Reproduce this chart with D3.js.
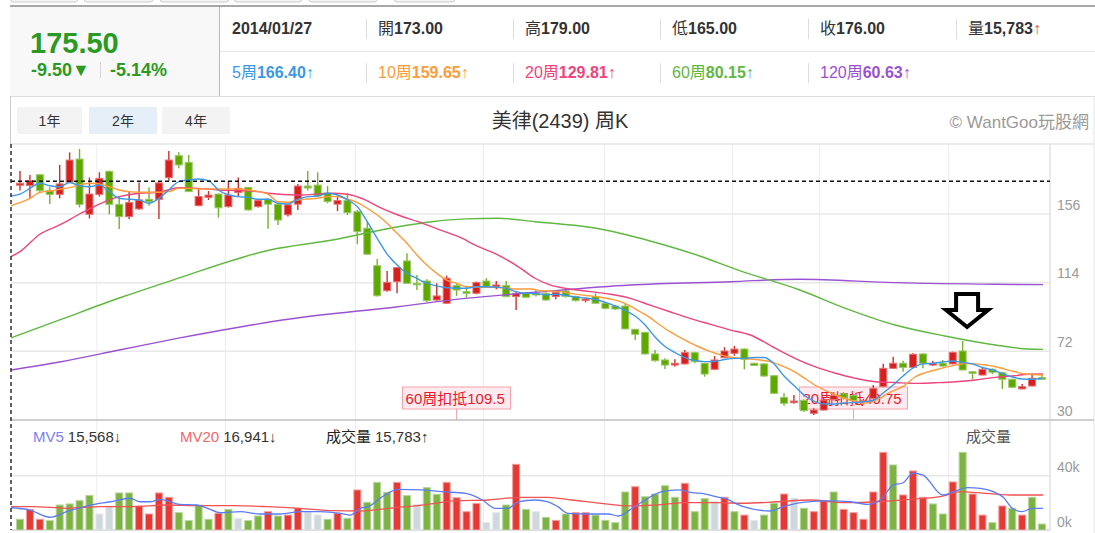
<!DOCTYPE html>
<html>
<head>
<meta charset="utf-8">
<script src="https://cdn.jsdelivr.net/npm/d3@7"></script>
<style>
  body { margin: 0; background: #fff; }
  svg { display: block; font-family: "Liberation Sans", Arial, "Noto Sans CJK TC", sans-serif; }
</style>
</head>
<body>
<svg id="chart" width="1095" height="533"></svg>
<script>
// weekly candles, oldest first
const opens = [173.6,173.4,180.0,170.3,168.0,175.4,189.6,155.8,168.0,182.1,161.9,154.4,159.1,165.0,165.0,178.2,191.7,187.6,161.1,166.2,
  168.2,160.5,169.1,172.3,160.5,165.0,162.0,155.5,162.0,173.1,173.7,168.7,162.0,164.2,157.4,147.3,124.4,109.1,114.6,127.3,
  113.6,115.0,103.4,101.4,112.2,108.5,107.5,115.0,111.0,112.2,105.5,107.5,107.5,107.5,105.5,108.9,105.5,103.0,105.5,101.4,
  99.7,99.7,85.5,83.6,70.4,66.7,63.6,64.3,71.2,64.7,61.0,68.1,70.8,73.4,64.7,64.3,57.1,43.8,40.6,42.0,
  34.1,36.1,42.5,46.0,45.0,41.2,43.2,50.4,61.6,64.7,62.2,70.4,63.6,64.7,64.3,72.2,59.5,57.5,61.0,58.9,
  54.9,49.0,50.8,55.9];
const highs = [182.3,179.9,180.5,172.3,186.0,193.7,195.8,178.4,181.5,182.5,166.7,170.1,175.2,172.3,176.0,194.5,193.7,192.1,171.3,170.1,
  168.5,176.2,178.4,172.5,165.0,165.5,162.5,162.0,174.4,182.3,181.5,173.1,167.0,168.7,158.5,151.5,128.5,121.1,123.5,132.0,
  118.7,116.1,113.6,118.3,113.6,111.6,114.6,116.7,115.0,115.0,108.9,108.0,109.5,108.3,108.3,109.5,106.0,104.8,107.5,102.0,
  100.3,101.4,85.7,84.0,72.8,67.7,67.1,72.8,71.8,65.0,69.1,74.5,75.3,73.8,65.0,64.6,57.4,46.3,45.3,42.5,
  37.2,43.5,47.0,47.0,46.0,43.0,51.4,64.4,68.7,66.3,70.8,70.8,66.3,66.7,71.8,78.3,59.8,62.2,61.6,59.5,
  55.2,52.0,58.5,57.5];
const lows = [170.3,165.6,168.7,162.1,165.6,175.0,160.0,153.3,166.7,155.8,146.8,153.0,158.5,161.1,153.0,176.4,184.0,169.5,160.8,164.6,
  153.8,160.0,167.0,158.0,160.0,147.0,149.3,154.4,158.5,170.3,166.6,162.6,157.8,155.4,137.5,131.0,105.5,108.5,107.5,113.2,
  109.5,102.0,103.0,101.0,105.9,104.9,106.9,111.0,110.0,105.1,97.3,104.8,105.5,103.0,103.9,105.0,102.5,102.0,101.2,97.8,
  97.3,85.5,78.9,70.0,65.7,61.2,62.6,64.0,64.7,56.5,60.8,68.0,69.3,61.0,63.0,56.5,46.0,38.7,40.0,35.0,
  33.1,35.8,42.0,42.5,41.0,41.0,42.8,50.0,61.2,59.5,62.0,61.6,63.0,62.6,64.0,60.4,54.9,57.3,58.1,49.0,
  49.8,48.8,50.5,54.8];
const closes = [174.8,176.4,170.3,168.0,174.4,189.0,161.9,168.2,177.8,161.9,154.4,163.0,164.6,163.6,175.0,189.0,186.0,169.7,166.7,167.6,
  159.8,167.6,171.7,158.5,164.2,162.0,152.3,161.6,173.1,171.9,167.0,163.6,164.2,156.8,145.2,131.4,106.0,114.2,123.2,113.6,
  113.0,103.0,105.9,116.7,109.5,107.5,114.2,111.6,112.6,105.5,107.5,105.1,106.5,103.4,108.1,105.5,103.0,104.0,101.4,98.3,
  97.9,85.7,82.4,70.4,66.3,63.6,64.7,71.2,65.7,58.1,66.7,72.2,73.4,67.1,63.3,56.9,46.3,40.2,41.6,35.7,
  36.1,42.2,45.0,43.5,42.0,42.0,49.3,61.6,64.7,62.2,70.2,64.7,64.7,63.0,71.4,60.6,58.5,61.0,59.2,54.9,
  50.0,50.4,55.5,54.9];
// weekly volume in thousands of lots, and bar colour code (r up, g down, n flat)
const volumes = [7.9,15.2,7.9,6.9,18.4,19.2,21.6,25.5,11.8,17.7,27.3,27.3,17.7,11.8,27.3,24.1,12.8,6.9,18.4,7.9,
  12.3,15.2,8.6,6.9,10.3,13.5,10.3,11.0,16.0,13.5,11.0,7.9,12.3,8.6,29.5,20.4,35.1,27.8,35.1,25.3,
  18.9,31.2,26.3,35.1,23.8,13.5,19.6,5.4,12.8,18.4,48.4,15.2,13.5,9.3,7.1,11.8,12.8,12.8,11.0,7.1,
  5.4,28.0,31.9,24.5,26.5,32.6,24.1,34.4,13.5,23.1,20.9,24.1,13.5,11.0,7.1,11.0,19.6,26.5,23.3,16.0,
  13.5,21.6,28.0,15.2,12.8,7.9,28.0,57.2,47.9,25.8,43.5,24.1,19.2,11.8,35.4,57.2,26.5,11.0,5.4,17.7,
  16.0,11.0,24.1,4.4];
const volColors = "grrgggggnnggrrrrggggrgnggrgrrnngrgrgggrgnggrrrrnngrgngrgrrggggrggggrggnrgrnggrngrrgrrrrrgrrrggrgrrgrgrgg";

// moving averages: [week index, value]
const ma5 = [[-0.9,167],[0,168.1],[1,171.7],[2,174.8],[3,173.3],[4,172.7],[5,175.2],[6,173.3],[7,172.7],[8,173.7],[9,169.7],[10,165.6],[11,165.0],[12,164.6],[13,162.6],[14,165.6],[15,170.7],[16,175.8],[17,176.8],[18,177.4],[19,176.4],[20,170.7],[21,167.6],[22,166.6],[23,166.2],[24,165.0],[25,165.0],[26,162.6],[27,162.1],[28,165.0],[29,166.6],[30,167.0],[31,168.7],[32,167.6],[33,164.6],[34,160.5],[35,151.3],[36,141.1],[37,131.5],[38,124.8],[39,119.7],[40,116.6],[41,113.6],[42,112.0],[43,110.9],[44,110.6],[45,110.6],[46,111.5],[47,111.5],[48,111.2],[49,110.6],[50,108.5],[51,107.5],[52,107.4],[53,106.5],[54,106.9],[55,106.2],[56,105.2],[57,104.6],[58,103.7],[59,101.9],[60,99.7],[61,97.0],[62,93.6],[63,88.1],[64,80.8],[65,75.0],[66,71.3],[67,68.2],[68,66.4],[69,65.7],[70,65.8],[71,67.0],[72,67.7],[73,67.7],[74,68.2],[75,68.2],[76,64.3],[77,56.9],[78,51.1],[79,45.3],[80,41.6],[81,39.8],[82,39.8],[83,40.4],[84,40.6],[85,41.2],[86,42.1],[87,46.5],[88,51.4],[89,56.9],[90,61.8],[91,64.3],[92,64.7],[93,65.5],[94,66.1],[95,65.2],[96,64.3],[97,62.1],[98,60.6],[99,58.4],[100,56.3],[101,55.1],[102,54.9],[103,55.5]];
const ma10 = [[-0.9,161.0],[0,162.9],[1,165.6],[2,169.3],[3,170.1],[4,171.1],[5,172.1],[6,173.7],[7,174.8],[8,174.4],[9,172.7],[10,170.7],[11,169.7],[12,169.3],[14,169.3],[15,169.7],[16,171.7],[17,171.7],[18,171.3],[22,171.3],[23,170.7],[24,169.7],[25,168.2],[26,163.5],[27,163.2],[28,164.6],[29,165.2],[30,165.6],[31,166.6],[32,166.6],[33,165.2],[34,162.9],[35,159.5],[36,155.4],[37,150.3],[38,144.2],[39,138.1],[40,130.9],[41,124.8],[42,119.7],[43,115.6],[44,113.6],[45,111.5],[46,111.2],[48,111.2],[49,110.6],[50,110.1],[51.6,110.1],[52.4,109.1],[53.4,108.9],[54.4,108.5],[55.4,107.5],[56.5,106.5],[57.5,105.9],[58.5,105.1],[59.5,104.0],[60.5,102.4],[61.5,99.7],[62.5,96.2],[63.5,92.6],[64.5,88.1],[65.5,84.0],[66.5,80.6],[67.5,77.3],[68.5,74.5],[69.6,71.8],[70.6,69.8],[71.6,68.4],[72.6,67.7],[73.6,67.3],[74.6,66.7],[75.6,65.7],[76.6,63.6],[77.6,61.0],[78.6,57.5],[80.1,51.4],[82.2,45.3],[83.7,42.2],[85.2,40.4],[86.5,42.8],[87.7,47.1],[88.9,50.2],[90.2,56.3],[92.2,60.6],[94.3,63.6],[95.3,64.6],[96.3,64.3],[97.3,63.6],[98.3,62.6],[99.3,61.0],[100.3,59.5],[101.3,58.1],[103.1,57.5]];
const ma20 = [[-0.9,130.0],[0,133.0],[2,143.6],[4,149.3],[6,156.0],[8,162.1],[10,166.6],[12,168.7],[14,169.3],[16,172.1],[18,171.7],[20,170.7],[22,170.3],[24,169.7],[25,168.7],[28,167.6],[31.5,168.7],[33,168.1],[34.8,164.6],[36.1,160.5],[38.1,155.4],[40.1,151.3],[42.1,146.8],[44.2,142.1],[46.2,136.0],[48.2,130.9],[50.2,123.8],[51.9,116.7],[53.4,112.6],[55.4,110.1],[57.5,108.5],[59.5,106.9],[61.5,104.4],[63.5,100.3],[65.5,96.2],[67.5,92.2],[69.6,88.5],[71.6,85.0],[73.6,82.0],[76.1,73.9],[78.1,67.7],[80.1,62.6],[82.2,58.6],[84.2,55.5],[86.2,53.4],[88.2,52.9],[90.2,52.4],[92.2,52.8],[94.3,53.4],[96.3,54.5],[98.3,56.1],[100.3,57.1],[101.6,58.0],[103.1,58.1]];
const ma60 = [[-0.9,80.2],[4,91.2],[10,104.6],[15.4,115.6],[25.2,134.0],[31.5,140.1],[38.1,148.2],[41.5,151.3],[44.9,153.0],[48.2,153.4],[51.9,151.3],[58.5,146.8],[63.5,139.5],[68.5,130.3],[72.3,121.8],[78.6,109.5],[83.2,98.3],[88.2,88.1],[93.2,81.4],[98.3,75.9],[101.6,73.4],[103.1,73.2]];
const ma120 = [[-0.9,60.6],[4,65.5],[10,72.8],[16.1,80.2],[22.2,86.9],[27,91.6],[38.1,99.3],[44.9,104.4],[51.9,108.1],[61.5,112.6],[71.6,114.6],[78.6,116.1],[88.2,114.0],[98.3,113.0],[103.1,112.8]];
const mv5 = [[-0.9,16.4],[1,14.7],[3,9.4],[4.7,13.5],[7.1,18.4],[9.1,20.8],[11.1,23.4],[12.1,20.8],[13.1,20.8],[14.1,22.6],[16.1,18.9],[17.8,18.4],[18.9,16.0],[20.2,12.7],[22.2,13.5],[24.2,11.8],[26.2,11.8],[28.2,13.5],[30.2,13.5],[32.3,12.3],[33.3,11.0],[34.3,16.0],[35.1,17.2],[36.5,24.5],[38.1,30.0],[40.5,29.5],[42.5,28.2],[44.9,27.0],[46.6,22.1],[47.9,16.0],[49.2,16.0],[50.2,20.8],[51.9,22.1],[53.2,20.8],[54.2,17.2],[55.2,12.3],[57.3,11.8],[59.3,11.8],[60.3,10.3],[61.7,16.0],[63.0,22.1],[64.7,28.2],[66.3,29.5],[67.7,27.5],[69.1,26.5],[70.1,24.5],[70.9,23.4],[72.9,17.2],[75.6,14.0],[76.9,17.2],[78.9,20.4],[81.7,21.4],[83.7,20.8],[85.4,18.9],[86.7,22.1],[88.0,33.1],[89.0,34.8],[90.0,41.8],[91.0,40.5],[93.0,25.8],[94.1,28.2],[95.5,31.2],[96.8,30.7],[98.1,28.2],[99.1,24.1],[100.0,16.0],[101.0,13.5],[102.0,16.0],[103.1,16.0]];
const mv20 = [[-0.9,17.2],[1.3,17.2],[4.7,16.0],[8.1,17.2],[11.4,17.2],[14.8,18.4],[18.1,17.9],[21.5,17.9],[24.9,17.2],[28.2,16.0],[31.6,14.2],[34.3,14.0],[37.1,16.0],[40.5,18.4],[43.9,21.4],[47.2,22.1],[50.6,24.1],[53.2,24.1],[55.6,22.1],[59.0,19.2],[61.3,17.7],[64.0,18.4],[67.3,20.1],[70.1,20.1],[72.9,19.7],[76.3,20.8],[79.6,22.1],[83.0,20.1],[86.4,20.8],[89.7,22.6],[93.0,25.0],[94.8,28.2],[96.5,27.5],[99.8,25.8],[103.1,25.8]];

const priceTicks = [30, 72, 114, 156];
const volTicks = [0, 40];
const gridWeeks = [7.75, 20.7, 33.8, 46.7, 58.9, 71.8, 80.6, 93.6];

// header figures
const quoteDate = "2014/01/27";
const quoteLabels = ["開", "高", "低", "收", "量"];
const quoteValues = ["173.00", "179.00", "165.00", "176.00", "15,783↑"];
const maLabels = ["5周", "10周", "20周", "60周", "120周"];
const maValues = ["166.40", "159.65", "129.81", "80.15", "60.63"];
const maColors = ["#3c98e4", "#ff9b3a", "#f0447c", "#5fb83f", "#9b52d2"];
const fuDi = [{ k: 44, text: "60周扣抵109.5" }, { k: 84, text: "20周扣抵40.75" }];

const svg = d3.select("#chart");
const pL = 11, pR = 1050, pT = 144, pM = 420, pB = 530;

const x = d3.scaleLinear([0, 103], [20, 1042]);
const y = d3.scaleLinear([30, 156], [420, 214]);
const yv = d3.scaleLinear([0, 40], [530, 475.7]);

// ---------- header ----------
const hdr = svg.append("g");
[[10.5, 78], [84, 153], [160, 229], [234, 302], [309, 377], [394, 455]].forEach(([a, b]) => {
  hdr.append("rect").attr("x", a).attr("y", -8).attr("width", b - a).attr("height", 10)
    .attr("rx", 3).attr("fill", "#f4f4f4").attr("stroke", "#ccc");
});
hdr.append("line").attr("x1", 10).attr("x2", 1095).attr("y1", 6).attr("y2", 6)
  .attr("stroke", "#8a8a8a").attr("stroke-width", 1.5);
hdr.append("rect").attr("x", 10).attr("y", 7).attr("width", 209).attr("height", 89).attr("fill", "#f8f8f8");
hdr.append("line").attr("x1", 219.5).attr("x2", 219.5).attr("y1", 7).attr("y2", 96).attr("stroke", "#b8b8b8");
hdr.append("line").attr("x1", 220).attr("x2", 1095).attr("y1", 51.5).attr("y2", 51.5).attr("stroke", "#e6e6e6");
hdr.append("line").attr("x1", 10).attr("x2", 1095).attr("y1", 96.5).attr("y2", 96.5).attr("stroke", "#dcdcdc");

hdr.append("text").attr("x", 30).attr("y", 53).attr("font-size", 29).attr("font-weight", "bold")
  .attr("fill", "#2a9a22").text("175.50");
hdr.append("text").attr("x", 31).attr("y", 76).attr("font-size", 18).attr("font-weight", "bold")
  .attr("fill", "#2a9a22").text("-9.50▼");
hdr.append("line").attr("x1", 100.5).attr("x2", 100.5).attr("y1", 62).attr("y2", 78).attr("stroke", "#d6d6d6");
hdr.append("text").attr("x", 110).attr("y", 76).attr("font-size", 18).attr("font-weight", "bold")
  .attr("fill", "#2a9a22").text("-5.14%");

const colX = [232, 378, 525, 672, 820, 968];
colX.slice(1).forEach(cx => {
  hdr.append("line").attr("x1", cx - 11.5).attr("x2", cx - 11.5).attr("y1", 19).attr("y2", 39).attr("stroke", "#ddd");
});
colX.slice(1, 5).forEach(cx => {
  hdr.append("line").attr("x1", cx - 11.5).attr("x2", cx - 11.5).attr("y1", 63).attr("y2", 83).attr("stroke", "#ddd");
});
hdr.append("text").attr("x", colX[0]).attr("y", 34).attr("font-size", 16).attr("font-weight", "bold")
  .attr("fill", "#333").text(quoteDate);
quoteLabels.forEach((lab, i) => {
  const t = hdr.append("text").attr("x", colX[i + 1]).attr("y", 34).attr("font-size", 16).attr("fill", "#333");
  t.append("tspan").text(lab);
  t.append("tspan").attr("font-weight", "bold").text(quoteValues[i].replace("↑", ""));
  if (quoteValues[i].endsWith("↑")) t.append("tspan").attr("fill", "#e0523a").text("↑");
});
maLabels.forEach((lab, i) => {
  const t = hdr.append("text").attr("x", colX[i]).attr("y", 78).attr("font-size", 16).attr("fill", maColors[i]);
  t.append("tspan").text(lab);
  t.append("tspan").attr("font-weight", "bold").text(maValues[i]);
  t.append("tspan").text("↑");
});

// range buttons, title, credit
[["1年", 17, 65, "#f3f3f3"], ["2年", 89, 68, "#e6eef8"], ["4年", 162, 68, "#f3f3f3"]].forEach(([lab, bx, bw, fill]) => {
  hdr.append("rect").attr("x", bx).attr("y", 107).attr("width", bw).attr("height", 27).attr("fill", fill);
  hdr.append("text").attr("x", bx + bw / 2).attr("y", 126).attr("text-anchor", "middle")
    .attr("font-size", 14).attr("fill", "#333").text(lab);
});
hdr.append("text").attr("x", 560).attr("y", 128).attr("text-anchor", "middle").attr("font-size", 20)
  .attr("fill", "#333").text("美律(2439) 周K");
hdr.append("text").attr("x", 1089).attr("y", 128).attr("text-anchor", "end").attr("font-size", 17)
  .attr("fill", "#9a9a9a").text("© WantGoo玩股網");

// ---------- frame and grid ----------
const grid = svg.append("g");
grid.append("line").attr("x1", 10.5).attr("x2", 10.5).attr("y1", 96).attr("y2", pT).attr("stroke", "#ccc");
grid.append("line").attr("x1", 1094).attr("x2", 1094).attr("y1", 96).attr("y2", 533).attr("stroke", "#e4e4e4");
grid.append("line").attr("x1", pL).attr("x2", 1094).attr("y1", pT).attr("y2", pT).attr("stroke", "#e4e4e4").attr("stroke-width", 1.5);
grid.selectAll(".vg").data(gridWeeks).join("line")
  .attr("x1", d => x(d)).attr("x2", d => x(d)).attr("y1", pT).attr("y2", pB)
  .attr("stroke", "#ececec");
grid.selectAll(".hg").data(priceTicks.slice(1)).join("line")
  .attr("x1", pL).attr("x2", pR).attr("y1", d => y(d)).attr("y2", d => y(d))
  .attr("stroke", "#e8e8e8").attr("stroke-width", 1.5);
grid.selectAll(".vgl").data(volTicks.slice(1)).join("line")
  .attr("x1", pL).attr("x2", pR).attr("y1", d => yv(d)).attr("y2", d => yv(d))
  .attr("stroke", "#e8e8e8").attr("stroke-width", 1.5);
grid.append("line").attr("x1", pR).attr("x2", pR).attr("y1", pT).attr("y2", pB).attr("stroke", "#e0e0e0").attr("stroke-width", 1.5);
grid.append("line").attr("x1", pL).attr("x2", 1094).attr("y1", pM).attr("y2", pM).attr("stroke", "#cfcfcf").attr("stroke-width", 2);
grid.append("line").attr("x1", pL).attr("x2", pR).attr("y1", pB).attr("y2", pB).attr("stroke", "#d5d5d5").attr("stroke-width", 1.5);

// right axes
const axP = d3.axisRight(y).tickValues(priceTicks).tickSize(0).tickPadding(0);
svg.append("g").attr("transform", `translate(1057,-5)`).call(axP)
  .call(g => g.select(".domain").remove())
  .call(g => g.selectAll("text").attr("font-size", 14).attr("fill", "#9a9a9a").attr("dy", 0)
    .attr("font-family", "Liberation Sans, Arial, sans-serif"));
const axV = d3.axisRight(yv).tickValues(volTicks).tickFormat(d => d + "k").tickSize(0).tickPadding(0);
svg.append("g").attr("transform", `translate(1057,-4)`).call(axV)
  .call(g => g.select(".domain").remove())
  .call(g => g.selectAll("text").attr("font-size", 14).attr("fill", "#9a9a9a").attr("dy", 0)
    .attr("font-family", "Liberation Sans, Arial, sans-serif"));

// clips
const defs = svg.append("defs");
defs.append("clipPath").attr("id", "pclip").append("rect")
  .attr("x", pL).attr("y", pT).attr("width", pR - pL).attr("height", pM - pT);
defs.append("clipPath").attr("id", "vclip").append("rect")
  .attr("x", pL).attr("y", pM + 1).attr("width", pR - pL).attr("height", pB - pM - 1);

// ---------- price panel ----------
const plot = svg.append("g").attr("clip-path", "url(#pclip)");

// look-back markers
fuDi.forEach(f => {
  const cx = x(f.k);
  plot.append("rect").attr("x", cx - 54).attr("y", 387).attr("width", 108).attr("height", 22)
    .attr("fill", "rgba(255,232,236,0.85)").attr("stroke", "#f2a2ab");
  plot.append("line").attr("x1", cx).attr("x2", cx).attr("y1", 409).attr("y2", pM)
    .attr("stroke", "#f2a2ab");
  plot.append("text").attr("x", cx - 51).attr("y", 404).attr("font-size", 15).attr("fill", "#e8192c").text(f.text);
});

const candles = d3.range(opens.length).map(i => ({ i, o: opens[i], h: highs[i], l: lows[i], c: closes[i] }));
const isUp = d => d.c >= d.o;
plot.selectAll(".wick").data(candles).join("line")
  .attr("x1", d => x(d.i)).attr("x2", d => x(d.i))
  .attr("y1", d => y(d.h)).attr("y2", d => y(d.l))
  .attr("stroke", d => isUp(d) ? "#c9302c" : "#72b32a").attr("stroke-width", 1.4);
plot.selectAll(".body").data(candles).join("rect")
  .attr("x", d => x(d.i) - 3.5).attr("width", 7)
  .attr("y", d => y(Math.max(d.o, d.c)))
  .attr("height", d => Math.max(1.5, Math.abs(y(d.o) - y(d.c))))
  .attr("fill", d => isUp(d) ? "#d6201f" : "#5ea800")
  .attr("stroke", d => isUp(d) ? "#e57272" : "#99c864").attr("stroke-width", 1);

const priceLine = d3.line().x(d => x(d[0])).y(d => y(d[1])).curve(d3.curveMonotoneX);
[[ma120, maColors[4]], [ma60, maColors[3]], [ma20, maColors[2]], [ma10, maColors[1]], [ma5, maColors[0]]]
  .forEach(([pts, col]) => {
    plot.append("path").datum(pts).attr("d", priceLine).attr("fill", "none")
      .attr("stroke", col).attr("stroke-width", 1.4);
  });

// ---------- volume panel ----------
const vplot = svg.append("g").attr("clip-path", "url(#vclip)");
const volFill = { r: "#e53935", g: "#7cb342", n: "#cfd8dc" };
const volEdge = { r: "#f2a19f", g: "#b5d69a", n: "#e2e8eb" };
vplot.selectAll(".vol").data(volumes).join("rect")
  .attr("x", (d, i) => x(i) - 3.5).attr("width", 7)
  .attr("y", d => yv(d)).attr("height", d => yv(0) - yv(d))
  .attr("fill", (d, i) => volFill[volColors[i]])
  .attr("stroke", (d, i) => volEdge[volColors[i]]).attr("stroke-width", 1);
const volLine = d3.line().x(d => x(d[0])).y(d => yv(d[1])).curve(d3.curveMonotoneX);
vplot.append("path").datum(mv20).attr("d", volLine).attr("fill", "none").attr("stroke", "#f05252").attr("stroke-width", 1.3);
vplot.append("path").datum(mv5).attr("d", volLine).attr("fill", "none").attr("stroke", "#5b7cf7").attr("stroke-width", 1.3);

const vt = svg.append("text").attr("y", 442).attr("font-size", 15);
vt.append("tspan").attr("x", 33).attr("fill", "#7b7cf2").text("MV5");
vt.append("tspan").attr("dx", 4).attr("fill", "#333").text("15,568↓");
vt.append("tspan").attr("x", 180).attr("fill", "#f06a6a").text("MV20");
vt.append("tspan").attr("dx", 4).attr("fill", "#333").text("16,941↓");
vt.append("tspan").attr("x", 326).attr("fill", "#222").text("成交量");
vt.append("tspan").attr("dx", 4).attr("fill", "#333").text("15,783↑");
svg.append("text").attr("x", 966).attr("y", 442).attr("font-size", 15).attr("fill", "#555").text("成交量");

// ---------- crosshair and arrow ----------
svg.append("line").attr("x1", pL).attr("x2", pR).attr("y1", y(176)).attr("y2", y(176))
  .attr("stroke", "#111").attr("stroke-width", 1.4).attr("stroke-dasharray", "4,3");
svg.append("line").attr("x1", pL).attr("x2", pL).attr("y1", pT).attr("y2", pB)
  .attr("stroke", "#222").attr("stroke-width", 1.4).attr("stroke-dasharray", "4,3");

const tx = x(95.45), ty = y(highs[95]) - 12;
svg.append("path")
  .attr("d", `M${tx - 11},${ty - 35} L${tx + 11},${ty - 35} L${tx + 11},${ty - 19} L${tx + 21},${ty - 19} L${tx},${ty - 2} L${tx - 21},${ty - 19} L${tx - 11},${ty - 19} Z`)
  .attr("fill", "#fff").attr("stroke", "#000").attr("stroke-width", 4);
</script>
</body>
</html>
